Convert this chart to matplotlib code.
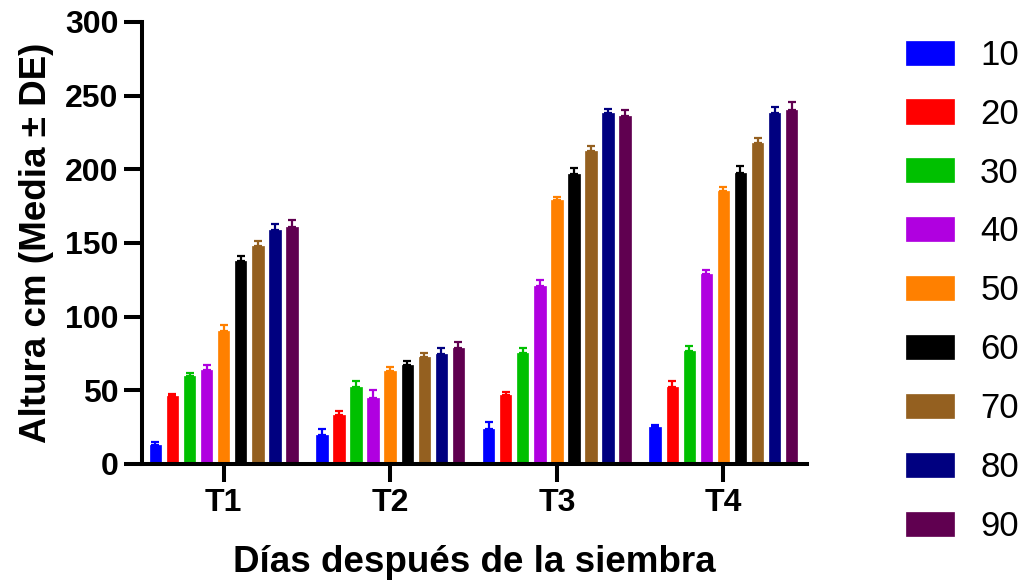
import matplotlib
matplotlib.use("Agg")
import matplotlib.pyplot as plt
import numpy as np

plt.rcParams['font.family'] = ['Liberation Sans', 'DejaVu Sans']

groups = ["T1", "T2", "T3", "T4"]
series = ["10", "20", "30", "40", "50", "60", "70", "80", "90"]
colors = ["#0000FF", "#FF0000", "#00C000", "#B000E0", "#FF8000",
          "#000000", "#946020", "#000080", "#600050"]

means = [
    [13, 20, 24, 25],      # 10
    [46, 33, 46.5, 52],    # 20
    [59.5, 52.5, 75.5, 77],  # 30
    [63.5, 45, 120.5, 129],  # 40
    [90, 63, 179, 185],    # 50
    [137.5, 67, 197, 197.5],  # 60
    [148, 72.5, 212.5, 218],  # 70
    [159, 74.5, 238, 238.5],  # 80
    [161, 78.5, 236.5, 240.5],  # 90
]
sds = [
    [2.2, 4, 4.5, 1.2],
    [1.8, 3, 2.5, 4],
    [2.5, 4, 3, 3],
    [3.5, 5, 4.5, 3],
    [4.5, 3, 2, 3],
    [3.6, 3, 4, 4.5],
    [3.2, 3, 3, 3.5],
    [3.8, 4, 2.8, 4],
    [4.5, 4, 3.5, 5],
]

fig = plt.figure(figsize=(10.29, 5.88), dpi=100)
ax = fig.add_axes([0.138, 0.2109, 0.784 - 0.138, 0.9626 - 0.2109])

x = np.arange(len(groups))
step = 0.1024
width = 0.069
handles = []
for i, (s, c) in enumerate(zip(series, colors)):
    pos = x + (i - 4) * step
    b = ax.bar(pos, means[i], width=width, color=c, edgecolor=c, linewidth=0.5, label=s, zorder=2)
    ax.errorbar(pos, means[i], yerr=[np.zeros(4), sds[i]], fmt='none', ecolor=c,
                elinewidth=1.6, capsize=2.8, capthick=1.6, zorder=3)
    handles.append(b)

ax.set_xlim(-0.49, 3.5)
ax.set_ylim(0, 300)
ax.set_yticks([0, 50, 100, 150, 200, 250, 300])
ax.set_xticks(x)
ax.set_xticklabels(groups)

for sp in ['top', 'right']:
    ax.spines[sp].set_visible(False)
for sp in ['left', 'bottom']:
    ax.spines[sp].set_linewidth(2.9)
    ax.spines[sp].set_capstyle('projecting')

ax.tick_params(axis='both', length=13, width=2.9, labelsize=23, pad=4)
for lab in ax.get_xticklabels() + ax.get_yticklabels():
    lab.set_fontweight('bold')

ax.set_ylabel("Altura cm (Media ± DE)", fontsize=26.5, fontweight='bold', labelpad=8)
ax.set_xlabel("Días después de la siembra", fontsize=26.5, fontweight='bold', labelpad=20)

fig.legend(handles=handles, labels=series, loc='upper left',
           bbox_to_anchor=(0.8806, 0.934), frameon=False, fontsize=25,
           handlelength=1.38, handleheight=0.69, handletextpad=0.75,
           labelspacing=0.745, borderpad=0, borderaxespad=0)

fig.savefig("out.png", dpi=100)
